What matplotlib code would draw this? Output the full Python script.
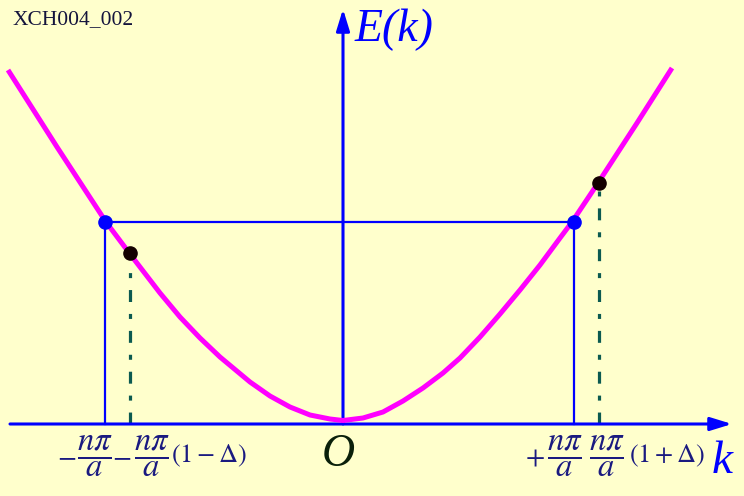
import matplotlib
matplotlib.use("Agg")
import matplotlib.pyplot as plt

# E(k) curve, points (k and E in pixel units, origin at O)
curve_k = [-335, -286, -237, -213, -203, -183, -163, -143, -123, -93, -73, -53, -33, -13, 0,
           20, 40, 60, 80, 100, 117, 137, 157, 177, 197, 217, 229, 255, 294, 329]
curve_E = [354, 277, 202, 170, 157, 131, 107, 86, 67, 42, 28, 17, 9, 5, 3.5,
           6, 12, 23, 36, 51, 66, 87, 110, 134, 159, 186, 202, 241, 301, 356]

# +/- n*pi/a points (blue) and the shifted ones (black)
edge_k = [-238, 231]
edge_E = 202
shift_k = [-213, 256]
shift_E = [171, 241]

# tick labels: sign, fraction, factor
label_sign = [r"$-$", r"$-$", r"$+$", ""]
label_frac = [r"$\dfrac{n\pi}{a}$"] * 4
label_factor = ["", r"$(1-\Delta)$", "", r"$(1+\Delta)$"]
sign_k = [-276, -221, 192, 0]
frac_k = [-248, -191, 222, 264]
factor_k = [0, -172, 0, 286]

bg = "#FFFFCC"
navy = "#1A1A80"

plt.rcParams["mathtext.fontset"] = "stix"
plt.rcParams["lines.scale_dashes"] = False

fig = plt.figure(figsize=(7.44, 4.96), dpi=100, facecolor=bg)
ax = fig.add_axes([0, 0, 1, 1])
ax.set_facecolor(bg)
ax.set_xlim(-343, 744 - 343)
ax.set_ylim(424 - 496, 424)
ax.axis("off")

# axes with arrows
arrow = dict(arrowstyle="-|>,head_length=0.65,head_width=0.2",
             color="blue", lw=2.2, mutation_scale=20, shrinkA=0, shrinkB=0)
ax.annotate("", xy=(389, 0), xytext=(-333, 0), arrowprops=arrow)
ax.annotate("", xy=(0, 415), xytext=(0, 0), arrowprops=arrow)

# box lines at +/- n*pi/a
ax.plot([edge_k[0], edge_k[0], edge_k[1], edge_k[1]], [0, edge_E, edge_E, 0],
        color="blue", lw=1.6, zorder=2)

# dashed lines at the shifted points
for k, e in zip(shift_k, shift_E):
    ax.plot([k, k], [0, e - 8], color="#0B5A50", lw=2.3,
            dashes=(8.6, 8.6, 3.6, 8.6), solid_capstyle="butt", zorder=2)

ax.plot(curve_k, curve_E, color="#FF00FF", lw=3.6, solid_capstyle="butt",
        solid_joinstyle="round", zorder=3)

ax.plot(edge_k, [edge_E, edge_E], "o", color="blue", ms=9.5, zorder=4)
ax.plot(shift_k, shift_E, "o", color="#140000", ms=9.5, zorder=4)

# texts
ax.text(-330, 404, "XCH004_002", fontsize=15.5, family="Liberation Serif",
        color="#14143C", va="center", ha="left")
ax.text(12, 394, "E(k)", fontsize=33, family="Liberation Serif", style="italic",
        color="blue", va="center", ha="left")
ax.text(369, -49, "k", fontsize=34, family="Liberation Serif", style="italic",
        color="blue", va="baseline", ha="left")
ax.text(-5, -42, "O", fontsize=33, family="Liberation Serif", style="italic",
        color="#0A200A", va="baseline", ha="center")

label_y = -32
for i in range(4):
    if label_sign[i]:
        ax.text(sign_k[i], label_y, label_sign[i], fontsize=20, color=navy,
                va="center", ha="center")
    ax.text(frac_k[i], label_y, label_frac[i], fontsize=23.5, color=navy,
            va="center", ha="center")
    if label_factor[i]:
        ax.text(factor_k[i], label_y, label_factor[i], fontsize=19, color=navy,
                va="center", ha="left")

fig.savefig("out.png", dpi=100, facecolor=bg)
